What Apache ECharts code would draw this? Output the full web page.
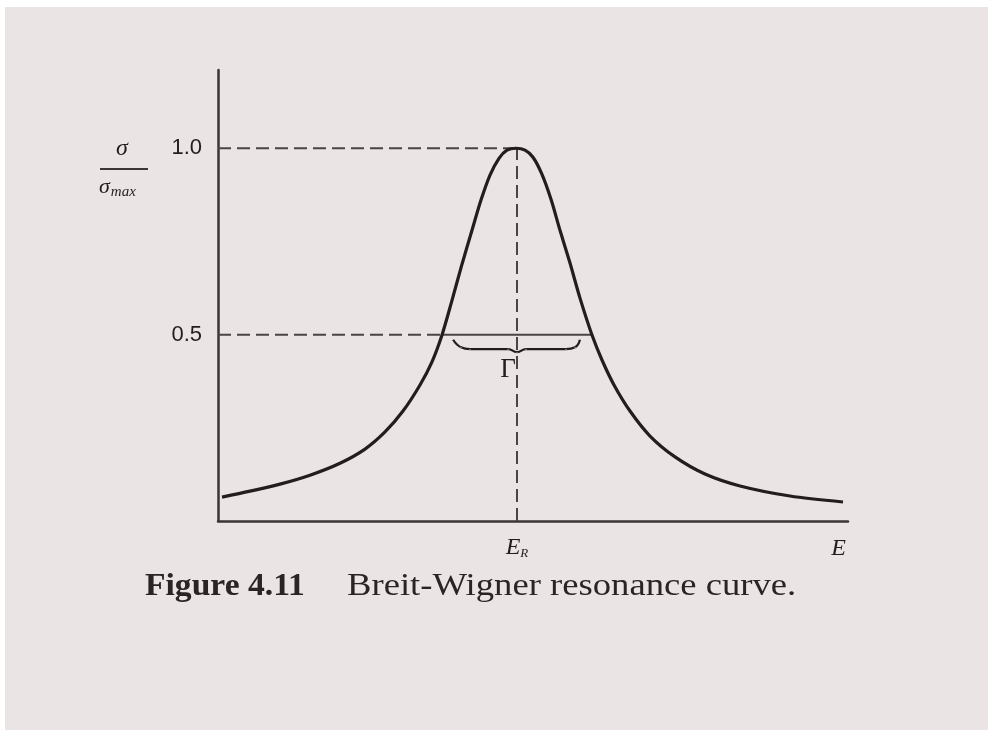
<!DOCTYPE html>
<html>
<head>
<meta charset="utf-8">
<script src="https://cdn.jsdelivr.net/npm/echarts@6/dist/echarts.min.js"></script>
<style>
  html, body { margin: 0; padding: 0; background: #eae4e4; }
  #chart { position: absolute; left: 0; top: 0; width: 988px; height: 730px; }
  .edge-top { position: absolute; left: 0; top: 0; width: 988px; height: 7px; background: #ffffff; z-index: 2; }
  .edge-left { position: absolute; left: 0; top: 0; width: 5px; height: 730px; background: #ffffff; z-index: 2; }
</style>
</head>
<body>
<div id="chart"></div>
<div class="edge-top"></div>
<div class="edge-left"></div>
<script>
// Breit-Wigner resonance: sigma / sigma_max against energy E (arbitrary units)
const energy = [0.4, 3.2, 6.2, 9.2, 12.2, 14.7, 16.7, 18.5, 20.2, 21.4, 22.4, 23.4, 24.4, 25.4, 26.3, 27.2, 28.1, 28.9,
                29.8,
                30.7, 31.5, 32.4, 33.3, 34.2, 35.2, 36.2, 37.4, 38.4, 39.6, 41.2, 43.2, 45.7, 48.7, 52.2, 57.2, 62.5];
const sigmaRatio = [0.064, 0.080, 0.099, 0.123, 0.155, 0.193, 0.239, 0.295, 0.365, 0.427, 0.499, 0.592, 0.689, 0.780, 0.861, 0.928, 0.973, 0.995,
                    1.000,
                    0.995, 0.976, 0.930, 0.863, 0.780, 0.692, 0.598, 0.499, 0.432, 0.365, 0.295, 0.228, 0.172, 0.126, 0.094, 0.067, 0.051];

// Reference levels and the resonance energy E_R
const resonanceEnergy = 29.9;
const peakLevel = 1.0;
const halfLevel = 0.5;
// Full width at half maximum (Gamma) endpoints
const halfWidthEnergy = [22.4, 37.4];
// Brace under the half-maximum segment
const braceEnergy = [23.5, 24.3, 25.2, 29.0, 29.9, 30.8, 34.8, 35.7, 36.2];
const braceLevel = [0.487, 0.466, 0.461, 0.461, 0.453, 0.461, 0.461, 0.466, 0.487];
// Axis ranges and tick labels
const energyRange = [0, 63];
const sigmaRange = [0, 1.21];
const yTickLabels = { '0.5': '0.5', '1': '1.0' };

const ink = '#231e1e';
const axisInk = '#3b3535';
const guideInk = '#4a4444';
const serif = '"Liberation Serif", "DejaVu Serif", serif';
const sans = '"Liberation Sans", Arial, sans-serif';

const chart = echarts.init(document.getElementById('chart'), null, { renderer: 'canvas' });

const curveData = energy.map((e, i) => [e, sigmaRatio[i]]);
const braceData = braceEnergy.map((e, i) => {
  const item = { value: [e, braceLevel[i]] };
  if (e === resonanceEnergy) {
    item.label = {
      show: true, position: 'bottom', distance: 3, offset: [-9, 0],
      formatter: 'Γ', fontFamily: serif, fontSize: 27, color: ink
    };
  }
  return item;
});

const guide = (data, type) => ({
  type: 'line', data, showSymbol: false, silent: true, animation: false,
  lineStyle: { color: guideInk, width: 2, type: type === 'dashed' ? [13, 6] : 'solid' },
  z: 1
});

chart.setOption({
  backgroundColor: '#eae4e4',
  animation: false,
  grid: { left: 218, right: 140, top: 70, bottom: 209, containLabel: false },
  xAxis: {
    type: 'value', min: energyRange[0], max: energyRange[1], interval: resonanceEnergy,
    axisLine: { show: true, lineStyle: { color: axisInk, width: 2.5 } },
    axisTick: { show: false }, splitLine: { show: false },
    axisLabel: {
      showMaxLabel: false, showMinLabel: false, margin: 14,
      formatter: v => (Math.abs(v - resonanceEnergy) < 1e-6 ? '{e|E}{r|R}' : ''),
      rich: {
        e: { fontFamily: serif, fontStyle: 'italic', fontSize: 24, color: ink },
        r: { fontFamily: serif, fontStyle: 'italic', fontSize: 13, color: ink, padding: [12, 0, 0, 0] }
      }
    },
    name: 'E', nameLocation: 'end', nameGap: 0,
    nameTextStyle: {
      fontFamily: serif, fontStyle: 'italic', fontSize: 24, color: ink,
      align: 'right', verticalAlign: 'top', padding: [16, 2, 0, 0]
    }
  },
  yAxis: {
    type: 'value', min: sigmaRange[0], max: sigmaRange[1], interval: halfLevel,
    axisLine: { show: true, lineStyle: { color: axisInk, width: 2.5 } },
    axisTick: { show: false }, splitLine: { show: false },
    axisLabel: {
      showMaxLabel: false, margin: 16,
      formatter: v => yTickLabels[String(v)] || '',
      fontFamily: sans, fontSize: 22, color: ink
    }
  },
  graphic: [
    // Axis title: sigma over sigma_max
    { type: 'text', left: 116, top: 137, style: { text: 'σ', font: 'italic 24px ' + serif, fill: ink } },
    { type: 'rect', left: 100, top: 168, shape: { width: 48, height: 2 }, style: { fill: axisInk } },
    { type: 'text', left: 99, top: 176,
      style: { text: '{s|σ}{m|max}', rich: {
        s: { fontFamily: serif, fontStyle: 'italic', fontSize: 22, fill: ink },
        m: { fontFamily: serif, fontStyle: 'italic', fontSize: 15, fill: ink, padding: [10, 0, 0, 1] }
      } } },
    // Figure caption
    { type: 'text', x: 145, y: 571, scaleX: 1.05,
      style: { text: 'Figure 4.11', font: 'bold 32px ' + serif, fill: '#2a2424' } },
    { type: 'text', x: 347, y: 571, scaleX: 1.145,
      style: { text: 'Breit-Wigner resonance curve.', font: '32px ' + serif, fill: '#2a2424' } }
  ],
  series: [
    guide([[energyRange[0], peakLevel], [resonanceEnergy, peakLevel]], 'dashed'),
    guide([[resonanceEnergy, 0], [resonanceEnergy, peakLevel]], 'dashed'),
    guide([[energyRange[0], halfLevel], [halfWidthEnergy[0], halfLevel]], 'dashed'),
    guide([[halfWidthEnergy[0], halfLevel], [halfWidthEnergy[1], halfLevel]], 'solid'),
    {
      type: 'line', data: braceData, smooth: 0.5, showSymbol: true, symbolSize: 1, silent: true,
      itemStyle: { color: 'rgba(0,0,0,0)' },
      lineStyle: { color: ink, width: 2.2 }, z: 2
    },
    {
      type: 'line', data: curveData, smooth: 0.3, showSymbol: false, silent: true,
      lineStyle: { color: ink, width: 3.2 }, z: 3
    }
  ]
});
</script>
</body>
</html>
